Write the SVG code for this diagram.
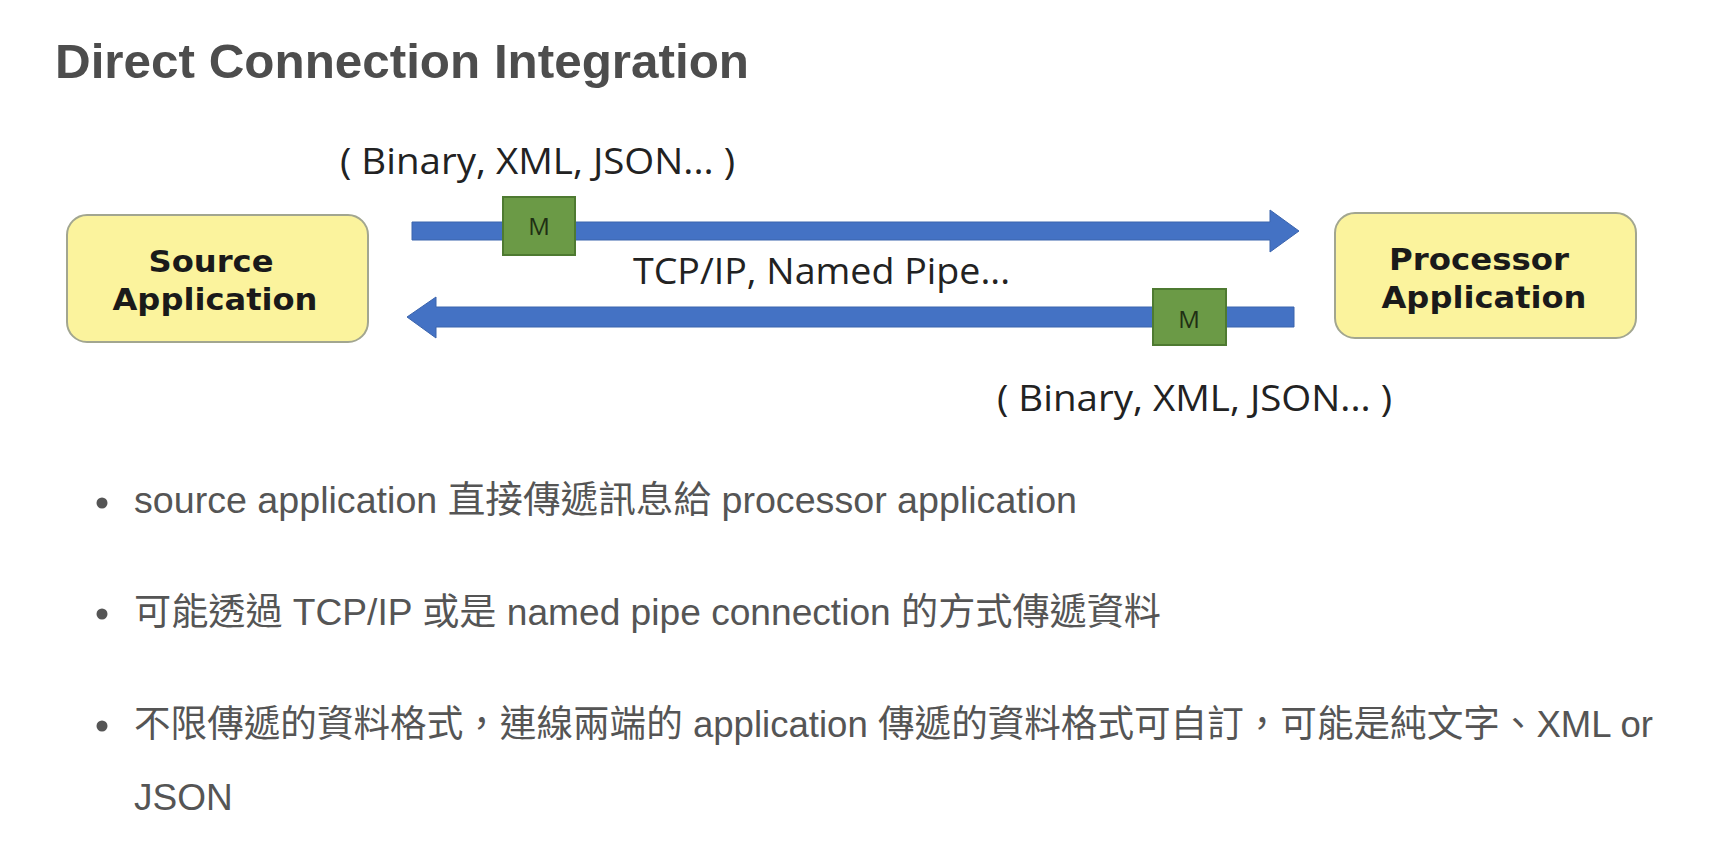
<svg xmlns="http://www.w3.org/2000/svg" width="1728" height="868" viewBox="0 0 1728 868">
  <style>
    .title { font-family: "Liberation Sans", Arial, sans-serif; font-weight: bold; font-size: 49px; fill: #4d4d4d; }
    .box { fill: #fbf39d; stroke: #a2a690; stroke-width: 2; }
    .boxtxt { font-family: "DejaVu Sans", Verdana, sans-serif; font-weight: bold; font-size: 30px; fill: #1a1a1a; text-anchor: middle; }
    .lbl { font-family: "Open Sans", "Liberation Sans", sans-serif; font-size: 37px; fill: #222; }
    .arrow { fill: #4472c4; stroke: #3b64ad; stroke-width: 1; }
    .msg { fill: #6b9a46; stroke: #4e7a31; stroke-width: 2; }
    .mtxt { font-family: "Open Sans", "Liberation Sans", sans-serif; font-size: 24px; fill: #1f2f14; text-anchor: middle; }
    .body { font-family: "Liberation Sans", "Noto Sans CJK TC", sans-serif; font-size: 37px; fill: #555555; }
    .dot { fill: #555555; }
  </style>
  <rect width="1728" height="868" fill="#ffffff"/>
  <text class="title" x="55" y="78" textLength="694" lengthAdjust="spacingAndGlyphs">Direct Connection Integration</text>

  <g id="connectors">
    <path class="arrow" d="M412,222 L1270,222 L1270,210 L1299,231 L1270,252 L1270,240 L412,240 Z"/>
    <path class="arrow" d="M1294,307 L436,307 L436,297 L407,317 L436,338 L436,327 L1294,327 Z"/>
  </g>

  <g id="source">
    <rect class="box" x="67" y="215" width="301" height="127" rx="20" ry="20"/>
    <text class="boxtxt" x="211" y="272" textLength="125" lengthAdjust="spacingAndGlyphs">Source</text>
    <text class="boxtxt" x="215" y="310" textLength="205" lengthAdjust="spacingAndGlyphs">Application</text>
  </g>

  <g id="processor">
    <rect class="box" x="1335" y="213" width="301" height="125" rx="20" ry="20"/>
    <text class="boxtxt" x="1479" y="270" textLength="180" lengthAdjust="spacingAndGlyphs">Processor</text>
    <text class="boxtxt" x="1484" y="308" textLength="205" lengthAdjust="spacingAndGlyphs">Application</text>
  </g>

  <g id="msg-top">
    <rect class="msg" x="503" y="197" width="72" height="58"/>
    <text class="mtxt" x="539" y="235">M</text>
  </g>

  <g id="msg-bottom">
    <rect class="msg" x="1153" y="289" width="73" height="56"/>
    <text class="mtxt" x="1189" y="328">M</text>
  </g>

  <g id="labels">
    <text class="lbl" x="340" y="174" textLength="395" lengthAdjust="spacingAndGlyphs">( Binary, XML, JSON... )</text>
    <text class="lbl" x="633" y="284" textLength="377" lengthAdjust="spacingAndGlyphs">TCP/IP, Named Pipe...</text>
    <text class="lbl" x="997" y="411" textLength="395" lengthAdjust="spacingAndGlyphs">( Binary, XML, JSON... )</text>
  </g>

  <g id="bullets">
    <circle class="dot" cx="102" cy="503" r="5.5"/>
    <text class="body" x="134" y="513" textLength="943" lengthAdjust="spacingAndGlyphs">source application 直接傳遞訊息給 processor application</text>
    <circle class="dot" cx="102" cy="614" r="5.5"/>
    <text class="body" x="134" y="625" textLength="1027" lengthAdjust="spacingAndGlyphs">可能透過 TCP/IP 或是 named pipe connection 的方式傳遞資料</text>
    <circle class="dot" cx="102" cy="726" r="5.5"/>
    <text class="body" x="134" y="737" textLength="1519" lengthAdjust="spacingAndGlyphs">不限傳遞的資料格式，連線兩端的 application 傳遞的資料格式可自訂，可能是純文字、XML or</text>
    <text class="body" x="134" y="810">JSON</text>
  </g>
</svg>
